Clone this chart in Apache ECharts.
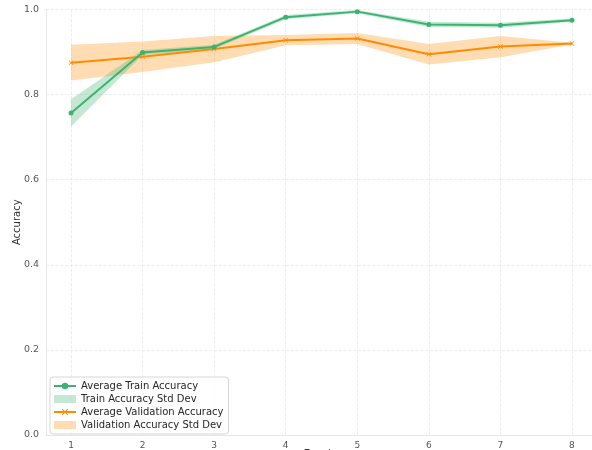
<!DOCTYPE html>
<html>
<head>
<meta charset="utf-8">
<script src="https://cdn.jsdelivr.net/npm/echarts@6/dist/echarts.min.js"></script>
<style>
    html, body { margin: 0; padding: 0; background: #fff; }
    #chart { width: 592px; height: 450px; }
</style>
</head>
<body>
<div id="chart"></div>
<script>
var epochs = [1, 2, 3, 4, 5, 6, 7, 8];
var trainMean = [0.757, 0.899, 0.912, 0.982, 0.995, 0.965, 0.963, 0.975];
var trainStd = [0.032, 0.006, 0.005, 0.005, 0.004, 0.006, 0.006, 0.004];
var valMean = [0.875, 0.889, 0.907, 0.928, 0.932, 0.895, 0.913, 0.920];
var valStd = [0.042, 0.036, 0.031, 0.012, 0.013, 0.024, 0.025, 0.002];

var green = '#3cb371';
var orange = '#ff8c00';
var font = 'DejaVu Sans';

function bandData(mean, std) {
    return epochs.map(function (e, i) {
        return [e, mean[i] - std[i], mean[i] + std[i]];
    });
}

// draw the whole band once, from the first item
function bandRender(params, api) {
    if (params.dataIndexInside !== 0) return;
    var n = params.dataInsideLength;
    var top = [], bottom = [];
    for (var i = 0; i < n; i++) {
        top.push(api.coord([api.value(0, i), api.value(2, i)]));
        bottom.unshift(api.coord([api.value(0, i), api.value(1, i)]));
    }
    return {
        type: 'polygon',
        shape: { points: top.concat(bottom) },
        style: { fill: api.visual('color') }
    };
}

var xMark = 'path://M0,1L1,0L5,4L9,0L10,1L6,5L10,9L9,10L5,6L1,10L0,9L4,5Z';

var chart = echarts.init(document.getElementById('chart'));
chart.setOption({
    animation: false,
    textStyle: { fontFamily: font },
    grid: { left: 46, right: 0, top: 9.5, bottom: 15, containLabel: false, outerBoundsMode: 'none' },
    legend: {
        orient: 'vertical',
        left: 50,
        top: 377,
        itemWidth: 22,
        itemHeight: 8,
        itemGap: 3,
        padding: [4, 5, 4, 3],
        borderColor: '#d6d6d6',
        borderWidth: 1,
        borderRadius: 3,
        backgroundColor: 'rgba(255,255,255,0.8)',
        textStyle: { fontSize: 10, color: '#262626', fontFamily: font },
        data: [
            { name: 'Average Train Accuracy' },
            { name: 'Train Accuracy Std Dev', icon: 'rect' },
            { name: 'Average Validation Accuracy' },
            { name: 'Validation Accuracy Std Dev', icon: 'rect' }
        ]
    },
    xAxis: {
        type: 'value',
        min: 0.65,
        max: 8.28,
        name: 'Epoch',
        nameLocation: 'middle',
        nameGap: 14,
        nameMoveOverlap: false,
        nameTextStyle: { fontSize: 10, color: '#333' },
        axisLine: { show: true, lineStyle: { color: '#e6e6e6' } },
        axisTick: { show: false, customValues: epochs },
        axisLabel: { customValues: epochs, fontSize: 9, color: '#555', margin: 6 },
        splitLine: { show: true, lineStyle: { color: '#e9e9e9', type: 'dashed', width: 0.8 } }
    },
    yAxis: {
        type: 'value',
        min: 0,
        max: 1,
        interval: 0.2,
        name: 'Accuracy',
        nameLocation: 'middle',
        nameGap: 24,
        nameMoveOverlap: false,
        nameTextStyle: { fontSize: 10, color: '#333' },
        axisLine: { show: true, lineStyle: { color: '#e6e6e6' } },
        axisTick: { show: false },
        axisLabel: {
            fontSize: 9.5, color: '#555', margin: 7,
            formatter: function (v) { return v.toFixed(1); }
        },
        splitLine: { show: true, lineStyle: { color: '#e9e9e9', type: 'dashed', width: 0.8 } }
    },
    series: [
        {
            name: 'Validation Accuracy Std Dev',
            type: 'custom',
            renderItem: bandRender,
            itemStyle: { color: 'rgba(255,140,0,0.3)' },
            encode: { x: 0, y: [1, 2] },
            data: bandData(valMean, valStd),
            z: 1
        },
        {
            name: 'Train Accuracy Std Dev',
            type: 'custom',
            renderItem: bandRender,
            itemStyle: { color: 'rgba(60,179,113,0.3)' },
            encode: { x: 0, y: [1, 2] },
            data: bandData(trainMean, trainStd),
            z: 2
        },
        {
            name: 'Average Validation Accuracy',
            type: 'line',
            data: epochs.map(function (e, i) { return [e, valMean[i]]; }),
            lineStyle: { color: orange, width: 2 },
            itemStyle: { color: orange },
            symbol: xMark,
            symbolSize: 5,
            showSymbol: true,
            z: 3
        },
        {
            name: 'Average Train Accuracy',
            type: 'line',
            data: epochs.map(function (e, i) { return [e, trainMean[i]]; }),
            lineStyle: { color: green, width: 2 },
            itemStyle: { color: green },
            symbol: 'circle',
            symbolSize: 5,
            showSymbol: true,
            z: 4
        }
    ]
});
</script>
</body>
</html>
